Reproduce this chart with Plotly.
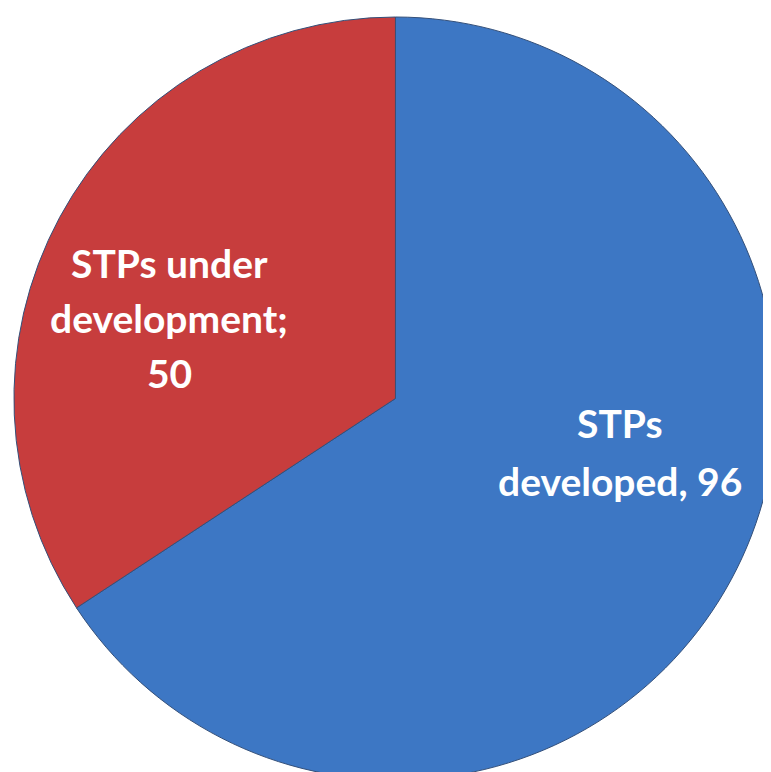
import plotly.graph_objects as go

labels = ["STPs developed", "STPs under development"]
values = [96, 50]
colors = ["#3D77C4", "#C73D3D"]
label_lines = [["STPs", "developed, 96"], ["STPs under", "development;", "50"]]
label_pos = [  # (x, y) pixel centre of first line, line spacing
    (612, 415, 58),
    (161, 255, 55),
]

W, H = 771, 772
fig = go.Figure(go.Pie(
    labels=labels, values=values, sort=False, direction="clockwise", rotation=0,
    marker=dict(colors=colors, line=dict(color="#34507A", width=1)),
    textinfo="none", hoverinfo="label+value", showlegend=False,
    domain=dict(x=[0.005, 1.0], y=[0, 1 - 9 / H]),
))

annotations = []
for lines, (px, py, sp) in zip(label_lines, label_pos):
    for i, t in enumerate(lines):
        annotations.append(dict(
            x=px / W, y=1 - (py + i * sp) / H, xref="paper", yref="paper",
            text=f"<b>{t}</b>", showarrow=False, xanchor="center", yanchor="middle",
            font=dict(family="Lato", size=39, color="white"),
        ))

fig.update_layout(
    width=W, height=H, margin=dict(l=0, r=0, t=0, b=0),
    paper_bgcolor="white", plot_bgcolor="white", annotations=annotations,
)
fig.write_html("out.html")
